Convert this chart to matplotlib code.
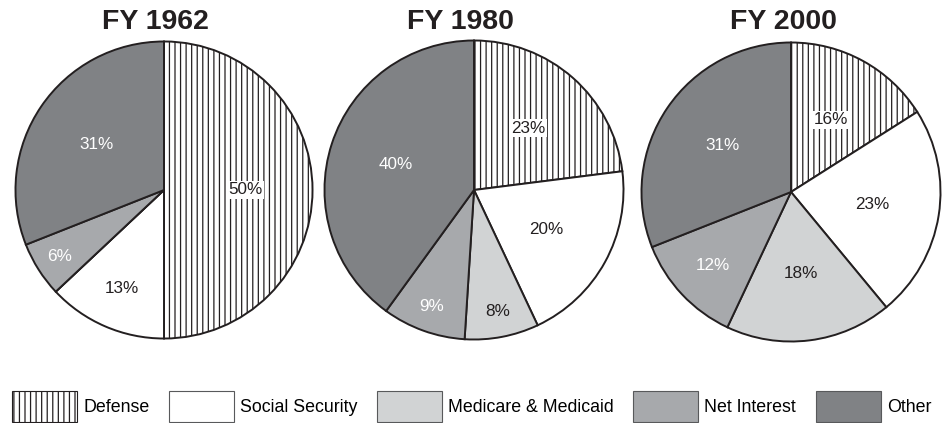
import numpy as np
import matplotlib
matplotlib.use('Agg')
import matplotlib.pyplot as plt
from matplotlib.patches import Patch

categories = ['Defense', 'Social Security', 'Medicare & Medicaid', 'Net Interest', 'Other']
years = ['FY 1962', 'FY 1980', 'FY 2000']
shares_1962 = [50, 13, 0, 6, 31]
shares_1980 = [23, 20, 8, 9, 40]
shares_2000 = [16, 23, 18, 12, 31]

colors = ['white', 'white', '#d1d3d4', '#a7a9ac', '#808285']
hatches = ['|||', '', '', '', '']
text_colors = ['#231f20', '#231f20', '#231f20', 'white', 'white']
EDGE = '#231f20'

W, H, DPI = 953, 423, 100
plt.rcParams['font.family'] = ['Liberation Sans', 'DejaVu Sans']
plt.rcParams['hatch.linewidth'] = 0.9

fig = plt.figure(figsize=(W / DPI, H / DPI), dpi=DPI)

# pie centre x, centre y, radius, title centre x (pixels)
layout = [(164, 190, 150, 155), (474, 190, 151, 460), (791, 192, 151, 783)]

for shares, year, (cx, cy, r, tx) in zip([shares_1962, shares_1980, shares_2000], years, layout):
    ax = fig.add_axes([(cx - r) / W, (H - cy - r) / H, 2 * r / W, 2 * r / H])
    wedges, _ = ax.pie(shares, colors=colors, startangle=90, counterclock=False,
                       wedgeprops=dict(edgecolor=EDGE, linewidth=1.4))
    for w, h in zip(wedges, hatches):
        w.set_hatch(h)
    for w, v, tc, h in zip(wedges, shares, text_colors, hatches):
        if v == 0:
            continue
        mid = np.deg2rad((w.theta1 + w.theta2) / 2)
        # small slices get their label pushed out toward the rim
        if v >= 15:
            d = 0.55
        elif v >= 10:
            d = 0.72
        else:
            d = 0.83
        bbox = dict(facecolor='white', edgecolor='none', pad=1) if h else None
        ax.text(d * np.cos(mid), d * np.sin(mid), f'{v}%', ha='center', va='center',
                fontsize=12.3, color=tc, bbox=bbox)
    ax.set_xlim(-1.01, 1.01)
    ax.set_ylim(-1.01, 1.01)
    fig.text(tx / W, 1 - 22 / H, year, ha='center', va='center', fontsize=20.5,
             fontweight='bold', color=EDGE)

handles = [Patch(facecolor=c, edgecolor=EDGE if h else '#58595b', hatch=h, linewidth=0.8)
           for c, h in zip(colors, hatches)]
fig.legend(handles, categories, loc='lower left', bbox_to_anchor=(12 / W, 1 / H), ncol=5,
           frameon=False, fontsize=12.8, handlelength=3.65, handleheight=2.31,
           handletextpad=0.35, columnspacing=1.1, borderpad=0, borderaxespad=0)

fig.savefig('out.png', dpi=DPI)
